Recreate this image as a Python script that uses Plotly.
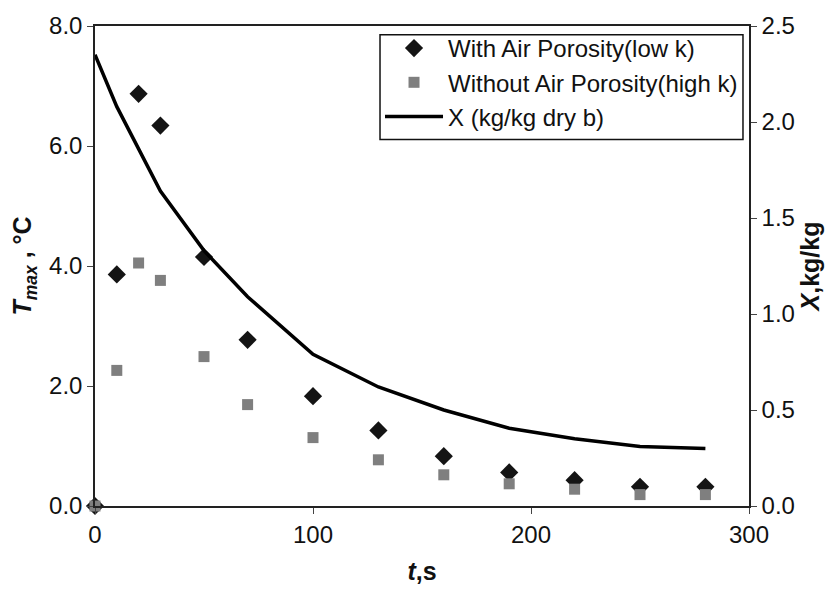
import plotly.graph_objects as go

# Time (s)
t = [0, 10, 20, 30, 50, 70, 100, 130, 160, 190, 220, 250, 280]
# Maximum temperature rise (°C)
t_with_air = [0, 3.86, 6.87, 6.34, 4.15, 2.77, 1.83, 1.26, 0.83, 0.56, 0.43, 0.32, 0.32]
t_without_air = [0, 2.26, 4.05, 3.76, 2.49, 1.69, 1.14, 0.77, 0.52, 0.37, 0.28, 0.19, 0.19]
# Moisture content (kg/kg dry basis)
x_moist = [2.35, 2.08, 1.86, 1.64, 1.33, 1.09, 0.79, 0.62, 0.50, 0.405, 0.35, 0.31, 0.30]

FONT = "Arial, 'Liberation Sans', sans-serif"

fig = go.Figure()
fig.add_trace(go.Scatter(
    x=t, y=t_with_air, mode="markers", name="With Air Porosity(low k)",
    marker=dict(symbol="diamond", size=14, color="#141414"),
    cliponaxis=False))
fig.add_trace(go.Scatter(
    x=t, y=t_without_air, mode="markers", name="Without Air Porosity(high k)",
    marker=dict(symbol="square", size=11, color="#7f7f7f"),
    cliponaxis=False))
fig.add_trace(go.Scatter(
    x=t, y=x_moist, mode="lines", name="X (kg/kg dry b)", yaxis="y2",
    line=dict(color="#000000", width=3.5)))

axis_common = dict(
    showgrid=False, zeroline=False, showline=True, linecolor="#222222",
    linewidth=1.5, ticks="outside", ticklen=6, tickcolor="#444444",
    tickfont=dict(family=FONT, size=24, color="#111111"))

title_font = dict(family=FONT, size=25, color="#111111")

fig.update_layout(
    width=835, height=593,
    margin=dict(l=95, r=86, t=16, b=87),
    paper_bgcolor="white", plot_bgcolor="white",
    font=dict(family=FONT, color="#111111"),
    xaxis=dict(range=[0, 300], dtick=100, mirror=True,
               title=dict(text="<b><i>t</i>,s</b>", font=title_font, standoff=16),
               **axis_common),
    yaxis=dict(range=[0, 8], dtick=2, tickformat=".1f",
               title=dict(text="<b><i>T<sub>max</sub></i> , °C</b>",
                          font=title_font, standoff=10),
               **axis_common),
    yaxis2=dict(range=[0, 2.5], dtick=0.5, tickformat=".1f",
                overlaying="y", side="right",
                title=dict(text="<b><i>X</i>,kg/kg</b>", font=title_font, standoff=8),
                **axis_common),
    # Legend entries sit on a white framed panel
    legend=dict(x=0.4358, y=1.0, xanchor="left", yanchor="top",
                bgcolor="rgba(0,0,0,0)", borderwidth=0,
                font=dict(family=FONT, size=24, color="#111111"),
                tracegroupgap=0, itemwidth=58),
    shapes=[dict(type="rect", xref="paper", yref="paper",
                 x0=0.4358, x1=0.9908, y0=0.7633, y1=0.9816,
                 fillcolor="white", line=dict(color="#111111", width=1.5),
                 layer="above")],
    showlegend=True,
)

fig.write_html("out.html")
